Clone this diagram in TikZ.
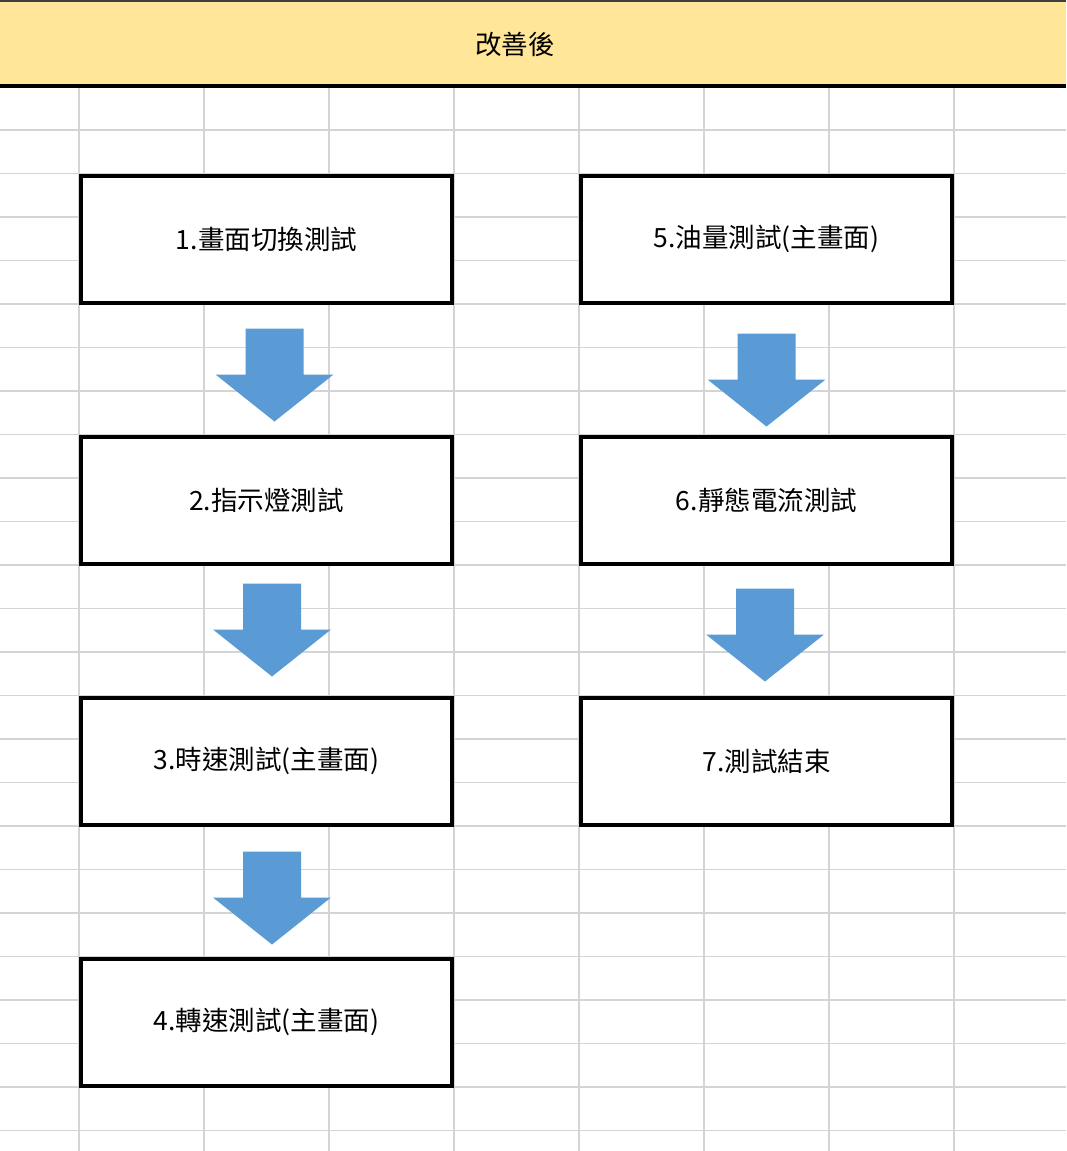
\documentclass[tikz,border=0pt]{standalone}
\usepackage{fontspec}
\setmainfont{Noto Sans CJK TC}
\usepackage{tikz}
\usetikzlibrary{calc,positioning}
\definecolor{headfill}{HTML}{FFE699}
\definecolor{gridgray}{HTML}{D4D4D4}
\definecolor{arrowblue}{HTML}{5B9BD5}
\tikzset{
  stepbox/.style={draw=black,line width=4pt,fill=white,minimum width=371pt,minimum height=127pt,inner sep=0pt},
  gridline/.style={draw=gridgray,line width=1.4pt},
  flowarrow/.style={fill=arrowblue}
}
\newcommand{\blockdown}[1]{\fill[flowarrow] #1 ++(-29,0) -- ++(58,0) -- ++(0,46) -- ++(30,0) -- ++(-59,47) -- ++(-59,-47) -- ++(30,0) -- cycle;}

\begin{document}
\begin{tikzpicture}[x=1pt,y=-1pt,font=\fontsize{26.5}{30}\selectfont]
\useasboundingbox (0,0) rectangle (1066,1151);
\fill[white] (0,0) rectangle (1066,1151);
\foreach \y in {130,173.5,...,1140} \draw[gridline] (0,\y) -- (1066,\y);
\foreach \x in {79,204,...,960} \draw[gridline] (\x,86) -- (\x,1151);
\fill[headfill] (0,0) rectangle (1066,84);
\draw[line width=2pt,draw=black!75] (0,1) -- (1066,1);
\draw[line width=4.5pt] (0,86) -- (1066,86);
\node (title) at (515,44) {改善後};
\node[stepbox] (s1) at (266.5,239) {1.畫面切換測試};
\node[stepbox] (s2) at (266.5,500) {2.指示燈測試};
\node[stepbox] (s3) at (266.5,761) {3.時速測試(主畫面)};
\node[stepbox] (s4) at (266.5,1022) {4.轉速測試(主畫面)};
\node[stepbox] (s5) at (766.5,239) {5.油量測試(主畫面)};
\node[stepbox] (s6) at (766.5,500) {6.靜態電流測試};
\node[stepbox] (s7) at (766.5,761) {7.測試結束};
\blockdown{($(s1.south)+(8,24)$)}
\blockdown{($(s2.south)+(5.5,18)$)}
\blockdown{($(s3.south)+(5.5,25)$)}
\blockdown{($(s5.south)+(0,29)$)}
\blockdown{($(s6.south)+(-1.5,23)$)}
\end{tikzpicture}
\end{document}
